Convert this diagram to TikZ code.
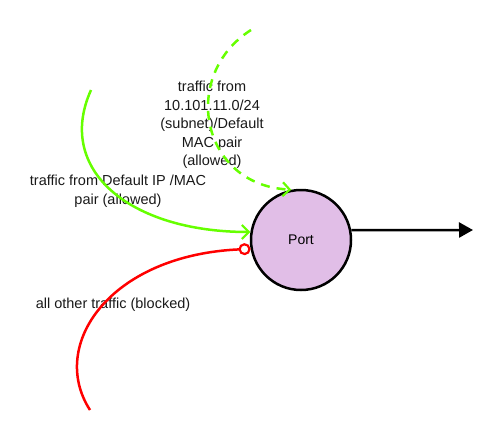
\documentclass[tikz,border=0pt]{standalone}
\usepackage{fontspec}
\setmainfont{Liberation Sans}
\usetikzlibrary{arrows.meta}
\definecolor{portfill}{HTML}{E1BEE7}
\definecolor{okgreen}{HTML}{66FF00}
\begin{document}
\begin{tikzpicture}[x=1pt,y=-1pt,
  line width=2.5pt,
  main node/.style={circle,draw,fill=portfill,font=\fontsize{14}{16}\selectfont,minimum size=100pt,inner sep=0pt},
  label node/.style={align=center,font=\fontsize{14.5}{18.5}\selectfont,text=black!90,inner sep=0pt},
  allowed/.style={okgreen,-{Straight Barb[length=7pt,width=14pt,line width=2.2pt]}},
  blocked/.style={red,-{Circle[open,length=12pt,width=12pt,line width=2.2pt]}}]

  \useasboundingbox (0,0) rectangle (501,434);

  \node[main node] (port) at (301,240){Port};
  \coordinate (out) at (473,230);
  \coordinate (a) at (91,90);
  \coordinate (b) at (251,30);
  \coordinate (c) at (90,410);

  \node[label node] (la) at (118,191){traffic from Default IP /MAC\\pair (allowed)};
  \node[label node] (lb) at (212,125){traffic from\\10.101.11.0/24\\(subnet)/Default\\MAC pair\\(allowed)};
  \node[label node] (lc) at (113,305){all other traffic (blocked)};

  \draw[-{Triangle[length=14pt,width=15pt]}] (port.11.5) -- (out);
  \draw[allowed] (a) .. controls (55,170) and (130,232) .. (port.171);
  \draw[allowed,dash pattern=on 9pt off 7pt] (b) .. controls (180,75) and (200,185) .. (port.101);
  \draw[blocked] (c) .. controls (48,345) and (110,255) .. (port.190);
\end{tikzpicture}
\end{document}
